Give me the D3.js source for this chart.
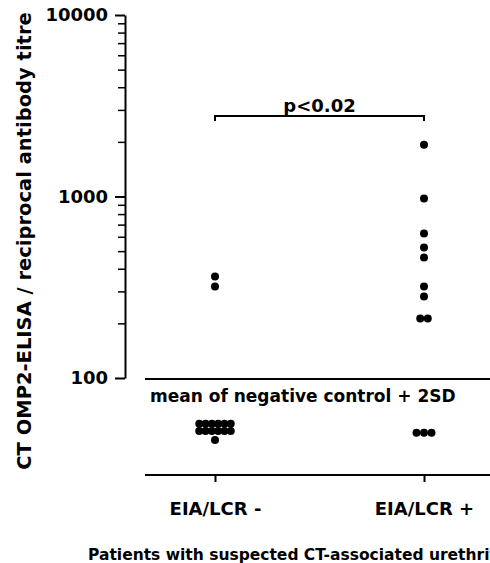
<!DOCTYPE html>
<html>
<head>
<meta charset="utf-8">
<script src="https://cdn.jsdelivr.net/npm/d3@7"></script>
<style>
  body { margin: 0; background: #fff; }
  text { font-family: "DejaVu Sans", sans-serif; font-weight: bold; fill: #000; }
</style>
</head>
<body>
<svg></svg>
<script>
// categories on the x axis
var groups = ["EIA/LCR -", "EIA/LCR +"];
// titres (points under the cut-off line sit below 100)
var titresNeg = [362, 319, 56, 56, 56, 56, 56, 56, 51, 51, 51, 51, 51, 51, 45.5];
var titresPos = [1930, 975, 625, 524, 461, 319, 281, 213, 213, 50, 50, 50];
// major and minor tick values of the log axis
var majorTicks = [100, 1000, 10000];
var minorTicks = [200, 300, 400, 500, 600, 700, 800, 900, 2000, 3000, 4000, 5000, 6000, 7000, 8000, 9000];

var width = 490, height = 563;
var svg = d3.select("svg").attr("width", width).attr("height", height);

var y = d3.scaleLog().domain([100, 10000]).range([378, 15]);
var x = d3.scalePoint().domain(groups).range([215, 424]);

// y axis, major ticks with labels
svg.append("g")
    .attr("transform", "translate(125,0)")
    .call(d3.axisLeft(y).tickValues(majorTicks).tickFormat(d3.format("d"))
        .tickSize(10).tickSizeOuter(0).tickPadding(7))
    .call(function(g) {
        g.selectAll("path, line").attr("stroke", "#000").attr("stroke-width", 2);
        g.selectAll("text").attr("font-size", 18).attr("font-family", null);
    });

// minor ticks
svg.append("g")
    .attr("transform", "translate(125,0)")
    .call(d3.axisLeft(y).tickValues(minorTicks).tickFormat("").tickSize(7).tickSizeOuter(0))
    .call(function(g) {
        g.select(".domain").remove();
        g.selectAll("line").attr("stroke", "#000").attr("stroke-width", 1.5);
    });

// cut-off line and its label
svg.append("line")
    .attr("x1", 145).attr("x2", width)
    .attr("y1", y(100) + 1).attr("y2", y(100) + 1)
    .attr("stroke", "#000").attr("stroke-width", 2);
svg.append("text")
    .attr("x", 150).attr("y", 402)
    .attr("font-size", 17)
    .text("mean of negative control + 2SD");

// x axis
var xAxis = svg.append("g")
    .attr("transform", "translate(0,475)")
    .call(d3.axisBottom(x).tickSize(7).tickPadding(20))
    .call(function(g) {
        g.select(".domain").remove();
        g.selectAll("line").attr("stroke", "#000").attr("stroke-width", 2);
        g.selectAll("text").attr("font-size", 18).attr("font-family", null);
    });
xAxis.append("line")
    .attr("x1", 145).attr("x2", width)
    .attr("stroke", "#000").attr("stroke-width", 2);

// spread points that share a value side by side
function spread(values, group) {
    var counts = d3.rollup(values, function(v) { return v.length; }, function(d) { return d; });
    var seen = new Map();
    return values.map(function(v) {
        var n = counts.get(v), i = seen.get(v) || 0;
        seen.set(v, i + 1);
        var step = n > 3 ? 6.3 : 7.5;
        return { x: x(group) + (i - (n - 1) / 2) * step, v: v };
    });
}

var points = spread(titresNeg, groups[0]).concat(spread(titresPos, groups[1]));
svg.append("g").selectAll("circle")
    .data(points)
    .enter()
    .append("circle")
    .attr("cx", function(d) { return d.x; })
    .attr("cy", function(d) { return y(d.v); })
    .attr("r", 4)
    .attr("fill", "#000");

// significance bracket
var bY = 116;
svg.append("path")
    .attr("d", "M" + x(groups[0]) + "," + (bY + 5) + "V" + bY + "H" + x(groups[1]) + "V" + (bY + 5))
    .attr("fill", "none").attr("stroke", "#000").attr("stroke-width", 2);
svg.append("text")
    .attr("x", (x(groups[0]) + x(groups[1])) / 2).attr("y", 112)
    .attr("text-anchor", "middle").attr("font-size", 18)
    .text("p<0.02");

// axis titles
svg.append("text")
    .attr("transform", "translate(31,241) rotate(-90)")
    .attr("text-anchor", "middle").attr("font-size", 19.5)
    .text("CT OMP2-ELISA / reciprocal antibody titre");
svg.append("text")
    .attr("x", 88).attr("y", 560)
    .attr("font-size", 15.5)
    .text("Patients with suspected CT-associated urethritis");
</script>
</body>
</html>
